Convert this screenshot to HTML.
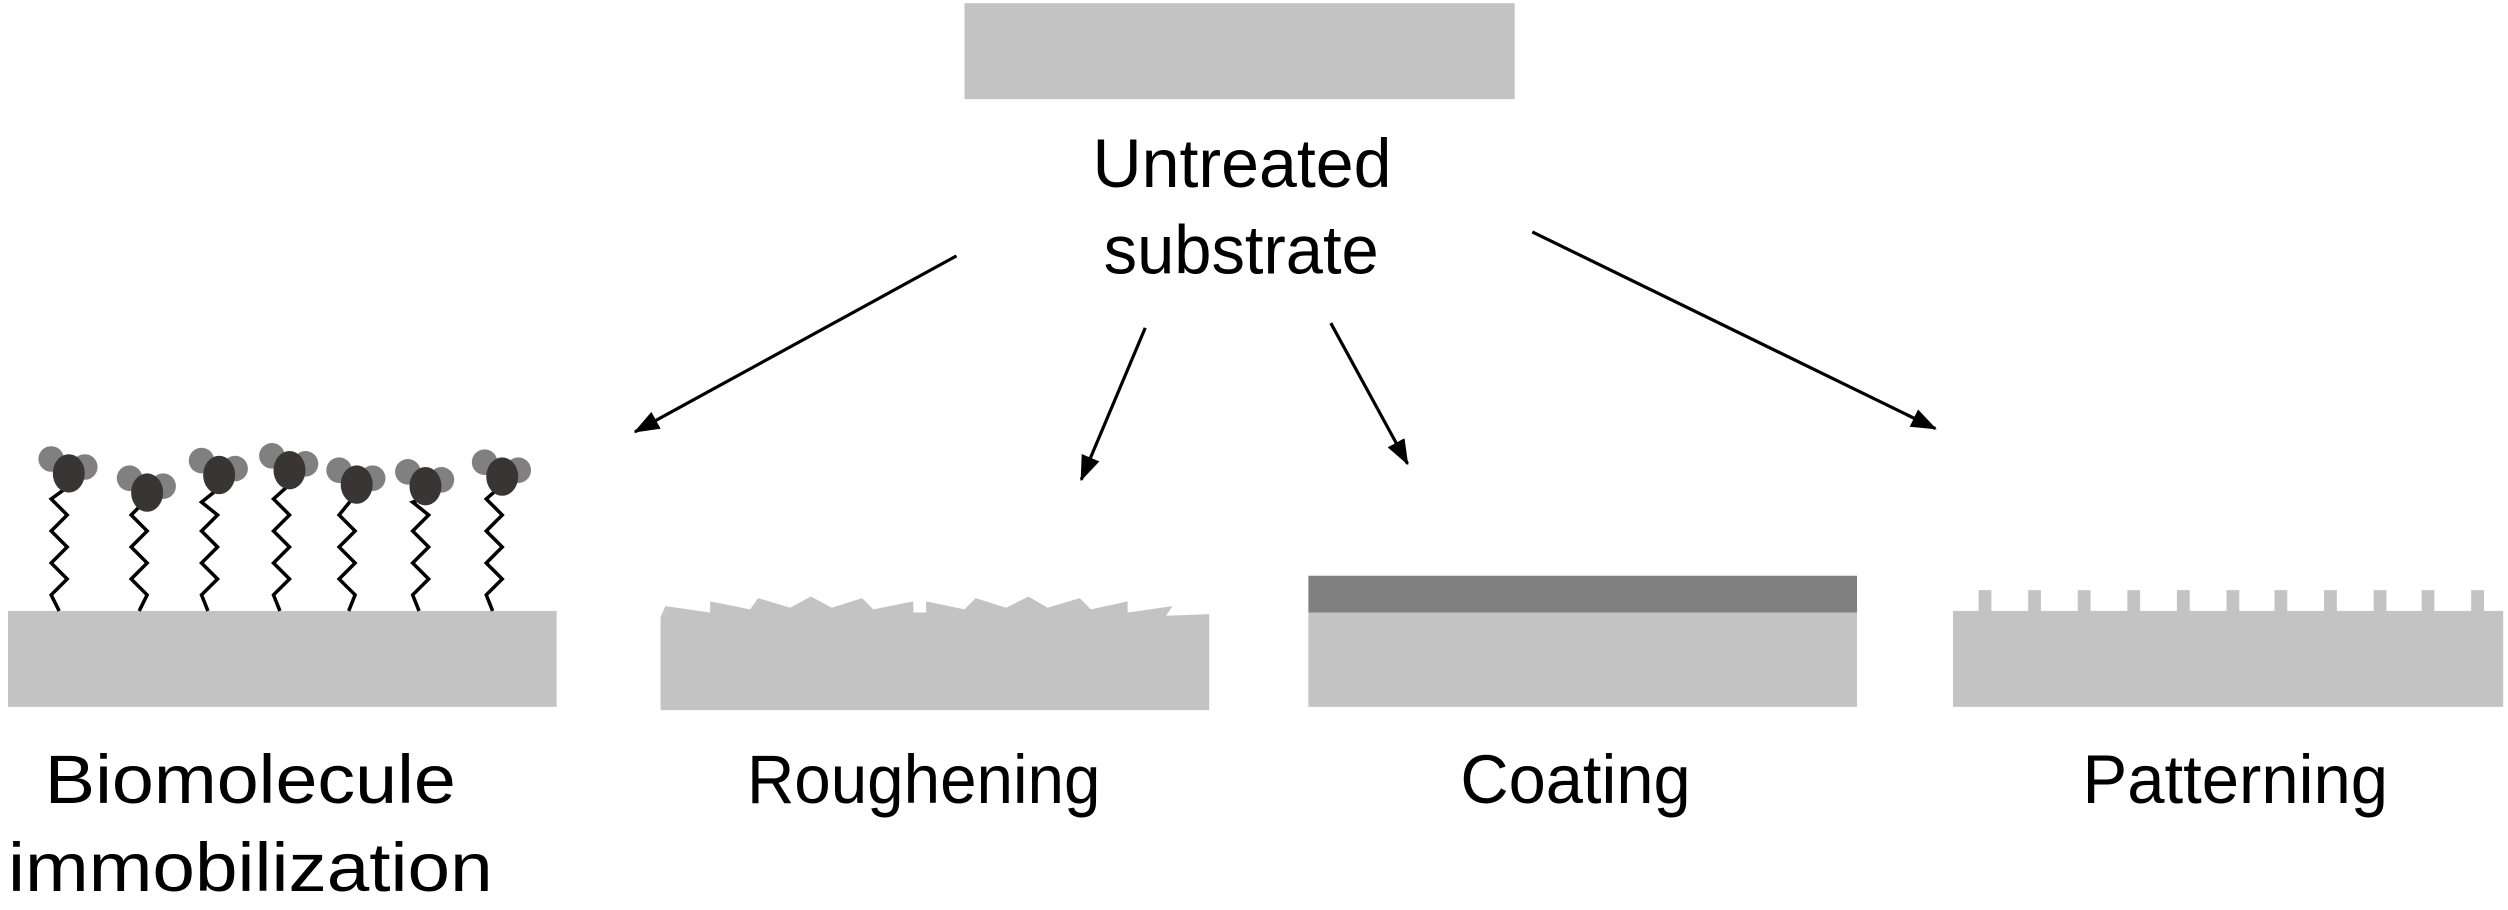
<!DOCTYPE html>
<html><head><meta charset="utf-8"><style>
html,body{margin:0;padding:0;background:#fff;}
svg{display:block;}
text{font-family:"Liberation Sans",sans-serif;font-size:43px;fill:#000;}
</style></head><body>
<svg width="2508" height="910" viewBox="0 0 1568 569" preserveAspectRatio="none" xmlns="http://www.w3.org/2000/svg">
<defs>
<marker id="ah2" viewBox="0 0 16 12" refX="15" refY="6" markerWidth="16" markerHeight="12" markerUnits="userSpaceOnUse" orient="auto">
<path d="M0,0 L16,6 L0,12 z" fill="#000"/>
</marker>
</defs>
<rect x="603" y="2" width="344" height="60" fill="#c3c3c3"/>
<text x="683" y="117" textLength="187" lengthAdjust="spacingAndGlyphs">Untreated</text>
<text x="690" y="171" textLength="172" lengthAdjust="spacingAndGlyphs">substrate</text>

<g stroke="#000" stroke-width="2" fill="none">
<line x1="598" y1="160" x2="397" y2="270" marker-end="url(#ah2)"/>
<line x1="716" y1="205" x2="676" y2="300" marker-end="url(#ah2)"/>
<line x1="832" y1="202" x2="880" y2="290" marker-end="url(#ah2)"/>
<line x1="958" y1="145" x2="1210" y2="268" marker-end="url(#ah2)"/>
</g>

<!-- Biomolecule -->
<rect x="5" y="382" width="343" height="60" fill="#c3c3c3"/>
<g stroke="#000" stroke-width="2.2" fill="none">
<polyline points="37,382 32,372 42,362 32,352 42,342 32,332 42,322 32,312 43,304"/>
<polyline points="87,382 92,372 82,362 92,352 82,342 92,332 82,322 90,314"/>
<polyline points="130,382 126,372 136,362 126,352 136,342 126,332 136,322 126,314 136,306"/>
<polyline points="175,382 171,372 181,362 171,352 181,342 171,332 181,322 171,312 181,303"/>
<polyline points="218,382 222,372 212,362 222,352 212,342 222,332 212,322 221,311"/>
<polyline points="262,382 258,372 268,362 258,352 268,342 258,332 268,322 258,314 266,311"/>
<polyline points="308,382 304,372 314,362 304,352 314,342 304,332 314,322 304,312 312,305"/>
</g>
<g>
<g transform="translate(43,296)"><circle cx="-11" cy="-9" r="8" fill="#808080"/><circle cx="10" cy="-4" r="8" fill="#808080"/><ellipse cx="0" cy="0" rx="10" ry="12" fill="#3a3535"/></g>
<g transform="translate(92,308)"><circle cx="-11" cy="-9" r="8" fill="#808080"/><circle cx="10" cy="-4" r="8" fill="#808080"/><ellipse cx="0" cy="0" rx="10" ry="12" fill="#3a3535"/></g>
<g transform="translate(137,297)"><circle cx="-11" cy="-9" r="8" fill="#808080"/><circle cx="10" cy="-4" r="8" fill="#808080"/><ellipse cx="0" cy="0" rx="10" ry="12" fill="#3a3535"/></g>
<g transform="translate(181,294)"><circle cx="-11" cy="-9" r="8" fill="#808080"/><circle cx="10" cy="-4" r="8" fill="#808080"/><ellipse cx="0" cy="0" rx="10" ry="12" fill="#3a3535"/></g>
<g transform="translate(223,303)"><circle cx="-11" cy="-9" r="8" fill="#808080"/><circle cx="10" cy="-4" r="8" fill="#808080"/><ellipse cx="0" cy="0" rx="10" ry="12" fill="#3a3535"/></g>
<g transform="translate(266,304)"><circle cx="-11" cy="-9" r="8" fill="#808080"/><circle cx="10" cy="-4" r="8" fill="#808080"/><ellipse cx="0" cy="0" rx="10" ry="12" fill="#3a3535"/></g>
<g transform="translate(314,298)"><circle cx="-11" cy="-9" r="8" fill="#808080"/><circle cx="10" cy="-4" r="8" fill="#808080"/><ellipse cx="0" cy="0" rx="10" ry="12" fill="#3a3535"/></g>
</g>
<text x="28" y="502" textLength="257" lengthAdjust="spacingAndGlyphs">Biomolecule</text>
<text x="5" y="557" textLength="303" lengthAdjust="spacingAndGlyphs">immobilization</text>

<!-- Roughening -->
<polygon fill="#c3c3c3" points="413,386 416,379 444,383 444,376 469,381 474,374 494,380 507,373 520,380 539,374 546,381 571,376 571,383 579,383 579,376 603,381 610,374 629,380 643,373 655,380 675,374 682,381 705,376 705,383 733,379 729,385 756,384 756,444 413,444"/>
<text x="467" y="502" textLength="221" lengthAdjust="spacingAndGlyphs">Roughening</text>

<!-- Coating -->
<rect x="818" y="360" width="343" height="23" fill="#808080"/>
<rect x="818" y="383" width="343" height="59" fill="#c3c3c3"/>
<text x="913" y="502" textLength="144" lengthAdjust="spacingAndGlyphs">Coating</text>

<!-- Patterning -->
<rect x="1221" y="382" width="344" height="60" fill="#c3c3c3"/>
<g fill="#c3c3c3">
<rect x="1237" y="369" width="8" height="14"/>
<rect x="1268" y="369" width="8" height="14"/>
<rect x="1299" y="369" width="8" height="14"/>
<rect x="1330" y="369" width="8" height="14"/>
<rect x="1361" y="369" width="8" height="14"/>
<rect x="1392" y="369" width="8" height="14"/>
<rect x="1422" y="369" width="8" height="14"/>
<rect x="1453" y="369" width="8" height="14"/>
<rect x="1484" y="369" width="8" height="14"/>
<rect x="1514" y="369" width="8" height="14"/>
<rect x="1545" y="369" width="8" height="14"/>
</g>
<text x="1302" y="502" textLength="191" lengthAdjust="spacingAndGlyphs">Patterning</text>
</svg>
</body></html>
